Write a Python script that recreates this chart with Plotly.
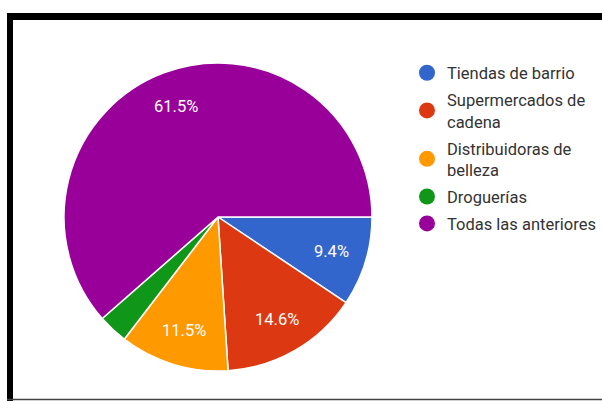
import math
import plotly.graph_objects as go

# Survey answers: where products are bought
categories = [
    "Tiendas de barrio",
    "Supermercados de<br>cadena",
    "Distribuidoras de<br>belleza",
    "Droguerías",
    "Todas las anteriores",
]
responses = [9, 14, 11, 3, 59]
colors = ["#3366CC", "#DC3912", "#FF9900", "#109618", "#990099"]

W, H = 602, 401
CX, CY, R = 218, 217, 154  # pie centre and radius, px


def px_x(x):
    return x / W


def px_y(y):
    return 1 - y / H


total = sum(responses)

fig = go.Figure()

fig.add_trace(go.Pie(
    labels=categories,
    values=responses,
    textinfo="none",
    marker=dict(colors=colors, line=dict(color="white", width=1.5)),
    sort=False,
    direction="clockwise",
    rotation=90,
    showlegend=False,
    hoverinfo="label+percent",
    domain=dict(x=[px_x(CX - R), px_x(CX + R)], y=[px_y(CY + R), px_y(CY - R)]),
))

# percentage labels at ~3/4 of the radius, on each slice's mid-angle
annotations = []
cum = 0
for v in responses:
    share = v / total
    mid = (cum + share / 2) * 2 * math.pi  # clockwise from 3 o'clock
    cum += share
    if share < 0.05:
        continue
    lx = CX + 0.77 * R * math.cos(mid)
    ly = CY + 0.77 * R * math.sin(mid)
    annotations.append(dict(
        x=px_x(lx), y=px_y(ly), xref="paper", yref="paper",
        xanchor="center", yanchor="middle",
        text=f"{share * 100:.1f}%", showarrow=False,
        font=dict(family="Roboto", size=16.5, color="white"),
    ))

# legend entries with round markers
for name, col in zip(categories, colors):
    fig.add_trace(go.Scatter(
        x=[None], y=[None], mode="markers", name=name, legendgroup=name,
        marker=dict(symbol="circle", size=16, color=col),
    ))

frame = "#000000"
fig.update_layout(
    width=W, height=H,
    margin=dict(l=0, r=0, t=0, b=0),
    paper_bgcolor="white",
    plot_bgcolor="white",
    xaxis=dict(visible=False),
    yaxis=dict(visible=False),
    annotations=annotations,
    legend=dict(
        x=px_x(407), y=px_y(55.5), xanchor="left", yanchor="top",
        font=dict(family="Roboto", size=16.5, color="#333333"),
        tracegroupgap=2.5, itemwidth=30, bgcolor="rgba(0,0,0,0)",
    ),
    shapes=[
        dict(type="rect", xref="paper", yref="paper", x0=px_x(7), x1=1,
             y0=px_y(20), y1=px_y(13), fillcolor=frame, line_width=0),
        dict(type="rect", xref="paper", yref="paper", x0=px_x(7), x1=px_x(13),
             y0=0, y1=px_y(13), fillcolor=frame, line_width=0),
        dict(type="line", xref="paper", yref="paper", x0=px_x(7), x1=1,
             y0=px_y(399.5), y1=px_y(399.5), line=dict(color="#444444", width=1.5)),
    ],
)

fig.write_html("out.html")
